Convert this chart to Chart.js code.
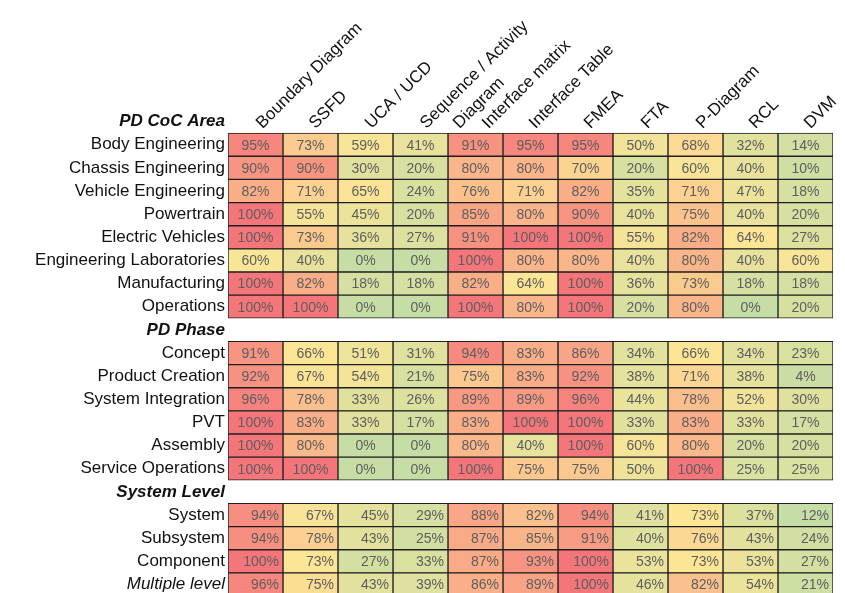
<!DOCTYPE html>
<html>
<head>
<meta charset="utf-8">
<script src="https://cdn.jsdelivr.net/npm/chart.js@4.4.1/dist/chart.umd.min.js"></script>
<style>
  html, body { margin: 0; padding: 0; background: #ffffff; overflow: hidden; }
  #wrap { position: relative; width: 845px; height: 600px; }
</style>
</head>
<body>
<div id="wrap"><canvas id="c" width="845" height="600"></canvas></div>
<script>
// ---------------- DATA ----------------
const methods = ['Boundary Diagram', 'SSFD', 'UCA / UCD', ['Sequence / Activity', 'Diagram'],
  'Interface matrix', 'Interface Table', 'FMEA', 'FTA', 'P-Diagram', 'RCL', 'DVM'];

const sectionTitles = ['PD CoC Area', 'PD Phase', 'System Level'];

const areaRows = ['Body Engineering', 'Chassis Engineering', 'Vehicle Engineering', 'Powertrain',
  'Electric Vehicles', 'Engineering Laboratories', 'Manufacturing', 'Operations'];
const areaValues = [
  [95, 73, 59, 41, 91, 95, 95, 50, 68, 32, 14],
  [90, 90, 30, 20, 80, 80, 70, 20, 60, 40, 10],
  [82, 71, 65, 24, 76, 71, 82, 35, 71, 47, 18],
  [100, 55, 45, 20, 85, 80, 90, 40, 75, 40, 20],
  [100, 73, 36, 27, 91, 100, 100, 55, 82, 64, 27],
  [60, 40, 0, 0, 100, 80, 80, 40, 80, 40, 60],
  [100, 82, 18, 18, 82, 64, 100, 36, 73, 18, 18],
  [100, 100, 0, 0, 100, 80, 100, 20, 80, 0, 20]
];

const phaseRows = ['Concept', 'Product Creation', 'System Integration', 'PVT', 'Assembly', 'Service Operations'];
const phaseValues = [
  [91, 66, 51, 31, 94, 83, 86, 34, 66, 34, 23],
  [92, 67, 54, 21, 75, 83, 92, 38, 71, 38, 4],
  [96, 78, 33, 26, 89, 89, 96, 44, 78, 52, 30],
  [100, 83, 33, 17, 83, 100, 100, 33, 83, 33, 17],
  [100, 80, 0, 0, 80, 40, 100, 60, 80, 20, 20],
  [100, 100, 0, 0, 100, 75, 75, 50, 100, 25, 25]
];

const levelRows = ['System', 'Subsystem', 'Component', 'Multiple level'];
const levelValues = [
  [94, 67, 45, 29, 88, 82, 94, 41, 73, 37, 12],
  [94, 78, 43, 25, 87, 85, 91, 40, 76, 43, 24],
  [100, 73, 27, 33, 87, 93, 100, 53, 73, 53, 27],
  [96, 75, 43, 39, 86, 89, 100, 46, 82, 54, 21]
];

// ---------------- BUILD TABLE ----------------
const groups = [[areaRows, areaValues], [phaseRows, phaseValues], [levelRows, levelValues]];
const labels = [];
const cellValues = [];
const rowSection = [];
const isTitle = [];
groups.forEach(([rows, vals], s) => {
  labels.push(sectionTitles[s]); cellValues.push(null); rowSection.push(s); isTitle.push(true);
  rows.forEach((r, i) => {
    labels.push(r); cellValues.push(vals[i]); rowSection.push(s); isTitle.push(false);
  });
});

// Excel-like 3 colour scale per section: min -> green, median -> yellow, max -> red
const LOW = [198, 222, 166], MID = [253, 229, 150], HIGH = [245, 118, 122];
function percentile(arr, p) {
  const a = arr.slice().sort((x, y) => x - y);
  const k = (a.length - 1) * p, f = Math.floor(k), cc = Math.ceil(k);
  return a[f] + (a[cc] - a[f]) * (k - f);
}
const stats = groups.map(([rows, vals]) => {
  const flat = vals.flat();
  return { min: Math.min(...flat), mid: percentile(flat, 0.5), max: Math.max(...flat) };
});
function mix(a, b, t) {
  return 'rgb(' + a.map((v, i) => Math.round(v + (b[i] - v) * t)).join(',') + ')';
}
function colorFor(v, st) {
  if (v <= st.mid) return mix(LOW, MID, st.mid === st.min ? 1 : (v - st.min) / (st.mid - st.min));
  return mix(MID, HIGH, (v - st.mid) / (st.max - st.mid));
}

const FONT = "'Liberation Sans', Arial, sans-serif";

const datasets = methods.map((m, c) => ({
  label: Array.isArray(m) ? m.join(' ') : m,
  data: cellValues.map(row => row ? [c, c + 1] : null),
  backgroundColor: ctx => {
    const row = cellValues[ctx.dataIndex];
    return row ? colorFor(row[c], stats[rowSection[ctx.dataIndex]]) : 'transparent';
  },
  borderColor: '#1f1f1f',
  borderWidth: 1,
  borderSkipped: false,
  grouped: false,
  barPercentage: 1,
  categoryPercentage: 1
}));

// ---------------- PLUGINS ----------------
const cellText = {
  id: 'cellText',
  afterDatasetsDraw(chart) {
    const ctx = chart.ctx;
    ctx.save();
    ctx.font = '14px ' + FONT;
    ctx.fillStyle = '#5e5e5e';
    ctx.textBaseline = 'middle';
    chart.data.datasets.forEach((ds, c) => {
      const meta = chart.getDatasetMeta(c);
      meta.data.forEach((el, r) => {
        const row = cellValues[r];
        if (!row) return;
        const { x, y, base } = el.getProps(['x', 'y', 'base'], true);
        const txt = row[c] + '%';
        if (rowSection[r] === 2) {
          ctx.textAlign = 'right';
          ctx.fillText(txt, Math.max(x, base) - 4, y + 1);
        } else {
          ctx.textAlign = 'center';
          ctx.fillText(txt, (x + base) / 2, y + 1);
        }
      });
    });
    ctx.restore();
  }
};

const headerShift = [7, 5, 6, 6, 13, 5, 5, 7, 7, 5, 5];
const colHeaders = {
  id: 'colHeaders',
  afterDraw(chart) {
    const ctx = chart.ctx;
    const xs = chart.scales.x, ys = chart.scales.y;
    const band = ys.getPixelForValue(1) - ys.getPixelForValue(0);
    const gridTop = ys.getPixelForValue(1) - band / 2;
    ctx.save();
    ctx.font = '17px ' + FONT;
    ctx.fillStyle = '#111111';
    ctx.textAlign = 'left';
    ctx.textBaseline = 'alphabetic';
    methods.forEach((m, c) => {
      const cx = xs.getPixelForValue(c + 0.5) + headerShift[c];
      const lines = Array.isArray(m) ? m : [m];
      lines.forEach((line, i) => {
        ctx.save();
        ctx.translate(cx + i * 33, gridTop - 4);
        ctx.rotate(-Math.PI / 4);
        ctx.fillText(line, 0, 0);
        ctx.restore();
      });
    });
    ctx.restore();
  }
};

new Chart(document.getElementById('c'), {
  type: 'bar',
  data: { labels, datasets },
  options: {
    indexAxis: 'y',
    responsive: false,
    animation: false,
    layout: { padding: { top: 110, right: 12, bottom: 4, left: 0 } },
    plugins: { legend: { display: false }, tooltip: { enabled: false } },
    scales: {
      x: { type: 'linear', min: 0, max: methods.length, display: false },
      y: {
        type: 'category',
        grid: { display: false, drawTicks: false },
        border: { display: false },
        afterFit(scale) { scale.width = 228; scale.paddingTop = 0; scale.paddingBottom = 0; },
        ticks: {
          autoSkip: false,
          padding: 3,
          color: '#111111',
          font: ctx => {
            const i = ctx.index;
            if (isTitle[i]) return { family: FONT, size: 17, weight: 'bold', style: 'italic' };
            if (labels[i] === 'Multiple level') return { family: FONT, size: 17, style: 'italic' };
            return { family: FONT, size: 17 };
          }
        }
      }
    }
  },
  plugins: [cellText, colHeaders]
});
</script>
</body>
</html>
